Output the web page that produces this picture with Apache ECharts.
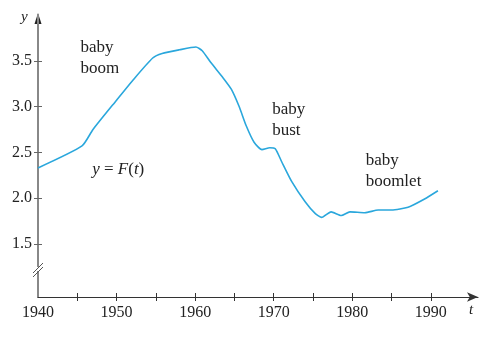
<!DOCTYPE html>
<html>
<head>
<meta charset="utf-8">
<script src="https://cdn.jsdelivr.net/npm/echarts@6/dist/echarts.min.js"></script>
<style>html,body{margin:0;padding:0;background:#fff}#c{width:488px;height:341px}</style>
</head>
<body>
<div id="c"></div>
<script>
var years = [1940, 1945.6, 1947, 1950, 1952, 1954.6, 1955.8, 1958, 1960.1, 1960.9, 1962, 1963.5, 1964.6, 1965.6, 1966.5, 1967.5, 1968.5, 1969.5, 1970.2, 1971, 1972.3, 1974, 1975.3, 1976.1, 1977.3, 1978.6, 1979.7, 1981.6, 1983.3, 1985, 1987.1, 1989.2, 1990.9];
var births = [2.33, 2.57, 2.75, 3.07, 3.28, 3.53, 3.58, 3.62, 3.65, 3.61, 3.48, 3.32, 3.19, 3.0, 2.79, 2.61, 2.53, 2.55, 2.54, 2.40, 2.18, 1.96, 1.83, 1.79, 1.85, 1.81, 1.85, 1.84, 1.87, 1.87, 1.90, 1.99, 2.08];
var xTicks = [1940, 1945, 1950, 1955, 1960, 1965, 1970, 1975, 1980, 1985, 1990];
var xLabels = [1940, 1950, 1960, 1970, 1980, 1990];
var yTicks = [1.5, 2.0, 2.5, 3.0, 3.5];
var notes = [
  {text: 'baby\nboom', year: 1945.4, value: 3.76},
  {text: 'baby\nbust', year: 1969.8, value: 3.08},
  {text: 'baby\nboomlet', year: 1981.7, value: 2.52}
];

var serif = '"Liberation Serif", "DejaVu Serif", serif';
var chart = echarts.init(document.getElementById('c'));
var data = years.map(function (y, i) { return [y, births[i]]; });

var grid = {left: 38, right: 10, top: 15, bottom: 44};
var xBase = {type: 'value', min: 1940, max: 1996, interval: 5, splitLine: {show: false}};
var yBase = {type: 'value', min: 0.92, max: 4.0, splitLine: {show: false}};

chart.setOption({
  animation: false,
  grid: grid,
  xAxis: [
    Object.assign({}, xBase, {
      axisLine: {show: true, lineStyle: {color: '#333', width: 1.2}, symbol: ['none', 'arrow'], symbolSize: [7, 11]},
      axisTick: {show: true, length: 4, inside: false, lineStyle: {color: '#333'}, customValues: xTicks.slice(1)},
      axisLabel: {color: '#222', fontFamily: serif, fontSize: 16, margin: 8, customValues: xLabels, formatter: function (v) { return String(v); }}
    }),
    Object.assign({}, xBase, {
      position: 'bottom',
      axisLine: {show: false},
      axisTick: {show: true, length: 4, inside: true, lineStyle: {color: '#333'}, customValues: xTicks.slice(1)},
      axisLabel: {show: false}
    })
  ],
  yAxis: [
    Object.assign({}, yBase, {
      axisLine: {show: true, lineStyle: {color: '#888', width: 2}, symbol: ['none', 'none']},
      axisTick: {show: true, length: 4, inside: false, lineStyle: {color: '#666'}, customValues: yTicks},
      axisLabel: {color: '#222', fontFamily: serif, fontSize: 16, margin: 6, customValues: yTicks, formatter: function (v) { return v.toFixed(1); }}
    }),
    Object.assign({}, yBase, {
      position: 'left',
      axisLine: {show: false},
      axisTick: {show: true, length: 4, inside: true, lineStyle: {color: '#666'}, customValues: yTicks},
      axisLabel: {show: false}
    })
  ],
  series: [{
    type: 'line',
    data: data,
    xAxisIndex: 0,
    yAxisIndex: 0,
    smooth: 0.2,
    symbol: 'none',
    lineStyle: {color: '#2aa7dc', width: 1.6},
    z: 3
  }]
});

var g = notes.map(function (n) {
  var p = chart.convertToPixel({xAxisIndex: 0, yAxisIndex: 0}, [n.year, n.value]);
  return {type: 'text', x: p[0], y: p[1], style: {text: n.text, fontFamily: serif, fontSize: 17, lineHeight: 21, fill: '#222'}};
});
var fp = chart.convertToPixel({xAxisIndex: 0, yAxisIndex: 0}, [1946.9, 2.4]);
g.push({
  type: 'text', x: fp[0], y: fp[1],
  style: {
    text: '{i|y} = {i|F}({i|t})',
    fontFamily: serif, fontSize: 17, fill: '#222',
    rich: {i: {fontFamily: serif, fontStyle: 'italic', fontSize: 17, fill: '#222'}}
  }
});
// y-axis arrow head (dark)
g.push({type: 'polygon', shape: {points: [[38, 13], [34.5, 24], [41.5, 24]]}, style: {fill: '#222'}});
g.push({type: 'text', x: 21, y: 10, style: {text: 'y', fontFamily: serif, fontStyle: 'italic', fontSize: 15, fill: '#222'}});
g.push({type: 'text', x: 469, y: 303, style: {text: 't', fontFamily: serif, fontStyle: 'italic', fontSize: 15, fill: '#222'}});
// axis break marks
g.push({type: 'rect', shape: {x: 36, y: 267, width: 4, height: 4}, style: {fill: '#fff'}, z: 1});
g.push({type: 'line', shape: {x1: 33, y1: 273, x2: 43, y2: 263}, style: {stroke: '#555', lineWidth: 1}, z: 2});
g.push({type: 'line', shape: {x1: 33, y1: 277, x2: 43, y2: 267}, style: {stroke: '#555', lineWidth: 1}, z: 2});
chart.setOption({graphic: g});
</script>
</body>
</html>
